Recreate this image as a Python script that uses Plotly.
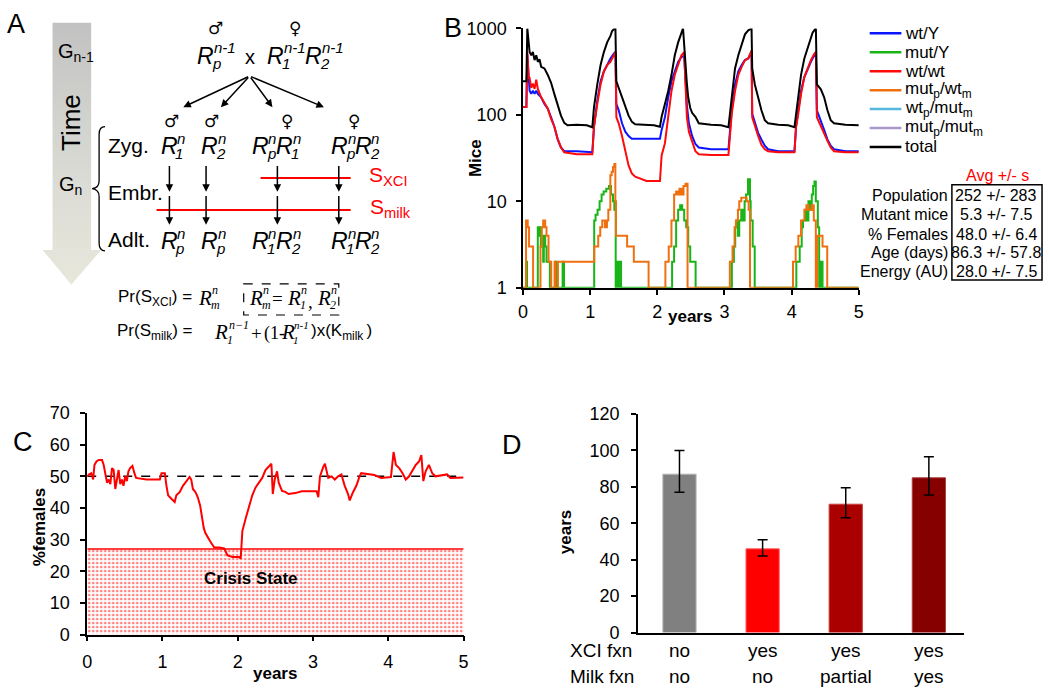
import plotly.graph_objects as go

W, H = 1050, 696
SANS = "Liberation Sans, Arial, Helvetica, sans-serif"
SERIF = "Liberation Serif, Times New Roman, serif"
SYMF = "DejaVu Sans, sans-serif"

# ---------------- Panel B data (mice counts, log scale) ----------------
years_total = [0, 0.05, 0.064, 0.084, 0.098, 0.123, 0.147, 0.172, 0.197, 0.221, 0.246, 0.27, 0.319, 0.369, 0.418, 0.467, 0.516, 0.565, 0.614, 0.663, 0.8, 0.95, 1.032,
               1.057, 1.106, 1.155, 1.204, 1.253, 1.302, 1.327, 1.351, 1.376, 1.39, 1.425, 1.474, 1.523, 1.572, 1.622, 1.671, 1.8, 1.95, 2.039,
               2.064, 2.113, 2.162, 2.211, 2.26, 2.31, 2.359, 2.383, 2.44, 2.46, 2.49, 2.52, 2.567, 2.617, 2.8, 2.95, 3.059,
               3.084, 3.108, 3.157, 3.206, 3.256, 3.305, 3.354, 3.403, 3.413, 3.452, 3.501, 3.55, 3.6, 3.649, 3.8, 3.95, 4.042,
               4.066, 4.091, 4.14, 4.189, 4.238, 4.287, 4.312, 4.337, 4.361, 4.376, 4.435, 4.484, 4.533, 4.582, 4.631, 4.8, 5.0]
mice_total = [245, 245, 1000, 700, 533, 490, 533, 430, 490, 411, 440, 360, 345, 290, 235, 174, 128, 98, 81, 76, 77, 76, 72,
              123, 225, 377, 533, 690, 820, 935, 975, 1000, 245, 206, 160, 123, 98, 83, 78, 77, 76, 73,
              95, 134, 189, 291, 490, 690, 894, 1000, 230, 160, 120, 105, 95, 80, 77, 76, 72,
              113, 174, 345, 490, 660, 855, 950, 1000, 345, 225, 160, 113, 87, 80, 77, 76, 72,
              103, 146, 291, 450, 580, 785, 894, 950, 1000, 225, 198, 160, 113, 87, 80, 77, 76]

years_wtY = [0, 0.05, 0.064, 0.084, 0.098, 0.123, 0.147, 0.172, 0.197, 0.221, 0.27, 0.319, 0.369, 0.418, 0.467, 0.516, 0.565, 0.614, 0.8, 1.032,
             1.057, 1.106, 1.155, 1.204, 1.253, 1.302, 1.351, 1.376, 1.39, 1.425, 1.474, 1.523, 1.572, 1.62, 1.8, 2.039,
             2.064, 2.113, 2.162, 2.211, 2.26, 2.31, 2.359, 2.40, 2.44, 2.47, 2.518, 2.567, 2.617, 2.8, 3.059,
             3.084, 3.108, 3.157, 3.206, 3.256, 3.305, 3.354, 3.403, 3.413, 3.452, 3.501, 3.55, 3.6, 3.649, 3.8, 4.042,
             4.066, 4.091, 4.14, 4.189, 4.238, 4.287, 4.337, 4.361, 4.376, 4.41, 4.484, 4.533, 4.582, 4.631, 4.8, 5.0]
mice_wtY = [123, 123, 500, 250, 190, 175, 190, 175, 190, 175, 160, 134, 118, 94, 73, 52, 42, 38, 38, 37,
            73, 146, 245, 318, 377, 450, 510, 533, 134, 113, 80, 64, 57, 53, 53, 53,
            67, 94, 160, 245, 318, 411, 468, 480, 130, 80, 57, 46, 42, 40, 40,
            73, 113, 225, 318, 377, 430, 450, 533, 103, 80, 62, 52, 44, 40, 38, 38,
            73, 103, 189, 274, 345, 411, 490, 533, 113, 94, 67, 52, 44, 40, 38, 38]

years_wtwt = [0, 0.05, 0.064, 0.084, 0.098, 0.123, 0.147, 0.172, 0.197, 0.221, 0.27, 0.319, 0.369, 0.418, 0.467, 0.516, 0.565, 0.614, 0.8, 1.032,
              1.057, 1.106, 1.155, 1.204, 1.253, 1.302, 1.351, 1.376, 1.39, 1.425, 1.474, 1.523, 1.572, 1.62, 1.671, 1.84, 2.039,
              2.064, 2.113, 2.162, 2.211, 2.26, 2.31, 2.359, 2.40, 2.44, 2.47, 2.518, 2.567, 2.617, 2.8, 3.059,
              3.084, 3.108, 3.157, 3.206, 3.256, 3.305, 3.354, 3.403, 3.413, 3.452, 3.501, 3.55, 3.6, 3.649, 3.8, 4.042,
              4.066, 4.091, 4.14, 4.189, 4.238, 4.287, 4.337, 4.361, 4.376, 4.435, 4.484, 4.533, 4.582, 4.631, 4.8, 5.0]
mice_wtwt = [123, 123, 533, 267, 267, 206, 230, 200, 255, 200, 160, 140, 118, 90, 73, 53, 42, 37, 35, 35,
             73, 134, 225, 318, 377, 411, 490, 533, 94, 80, 57, 37, 26, 21, 19.3, 17.2, 17.2,
             34, 47, 95, 189, 291, 377, 490, 533, 94, 64, 48, 38, 35, 34.4, 34.4,
             67, 103, 189, 291, 360, 430, 450, 556, 94, 73, 57, 45, 40, 38, 37, 37,
             73, 94, 174, 274, 345, 430, 510, 533, 94, 73, 62, 50, 42, 38, 37, 37]

years_mutY = [0, 0.045, 0.06, 0.22, 0.235, 0.25, 0.265, 0.28, 0.30, 0.31, 0.33, 0.35, 0.40, 0.48, 0.50, 0.59, 0.61,
              1.06, 1.08, 1.11, 1.14, 1.17, 1.20, 1.24, 1.28, 1.31, 1.34, 1.36, 1.38, 1.40, 1.41, 1.42, 1.43, 1.45, 1.46,
              2.22, 2.25, 2.28, 2.31, 2.34, 2.37, 2.40, 2.43, 2.46, 2.49, 2.57,
              3.11, 3.14, 3.16, 3.18, 3.20, 3.22, 3.25, 3.27, 3.30, 3.32, 3.35, 3.38, 3.39, 3.42, 3.45,
              4.07, 4.12, 4.15, 4.17, 4.20, 4.22, 4.25, 4.27, 4.30, 4.32, 4.34, 4.36, 4.39, 4.41, 4.44, 4.46, 5.0]
mice_mutY = [1, 2, 1, 5, 4, 5, 3, 4, 2, 4, 3, 2, 1, 2, 1, 2, 1,
             6, 7, 8, 10, 12, 13, 14, 15, 12, 10, 8, 1, 2, 1, 2, 1, 2, 1,
             2, 3, 6, 8, 9, 8, 6, 5, 3, 2, 1,
             2, 3, 5, 6, 4, 6, 8, 6, 10, 12, 18, 10, 6, 3, 1,
             2, 3, 5, 6, 8, 6, 10, 8, 12, 15, 17, 10, 5, 1, 2, 1, 1]

years_mutp_wtm = [0, 0.045, 0.07, 0.09, 0.13, 0.15, 0.26, 0.28, 0.30, 0.33, 0.35, 0.38, 0.42, 0.47, 0.48, 0.52,
                  1.06, 1.12, 1.15, 1.18, 1.22, 1.25, 1.27, 1.30, 1.32, 1.34, 1.36, 1.375, 1.385, 1.55, 1.65, 1.87,
                  2.12, 2.17, 2.21, 2.25, 2.28, 2.31, 2.33, 2.36, 2.39, 2.42, 2.45,
                  3.08, 3.12, 3.15, 3.17, 3.20, 3.22, 3.25, 3.30, 3.33, 3.36, 3.38,
                  4.02, 4.06, 4.10, 4.14, 4.19, 4.22, 4.25, 4.30, 4.33, 4.36, 4.38, 4.43, 4.46, 4.53, 5.0]
mice_mutp_wtm = [1, 6, 5, 3, 3, 1, 3, 5, 6, 5, 4, 2, 1, 2, 1, 2,
                 3, 4, 5, 6, 5, 6, 8, 20, 22, 25, 27, 10, 4, 3, 2, 1,
                 2, 3, 6, 12, 13, 12, 14, 12, 15, 16, 1,
                 2, 3, 5, 6, 8, 10, 11, 11, 10, 8, 1,
                 2, 3, 4, 6, 8, 9, 8, 9, 6, 1, 4, 4, 3, 1, 1]

legend_names = ["wt/Y", "mut/Y", "wt/wt", "mut<sub>p</sub>/wt<sub>m</sub>",
                "wt<sub>p</sub>/mut<sub>m</sub>", "mut<sub>p</sub>/mut<sub>m</sub>", "total"]
legend_colors = ["#0a14ff", "#18b418", "#ff0a0a", "#f07010", "#55b8dc", "#a898cc", "#000000"]
b_ticks = [1, 10, 100, 1000]
year_ticks = [0, 1, 2, 3, 4, 5]

stat_names = ["Population", "Mutant mice", "% Females", "Age (days)", "Energy (AU)"]
stat_values = ["252 +/- 283", "5.3 +/- 7.5", "48.0 +/- 6.4", "86.3 +/- 57.8", "28.0 +/- 7.5"]

# ---------------- Panel C data (% females) ----------------
fem_years = [0, 0.022, 0.053, 0.079, 0.096, 0.123, 0.154, 0.197, 0.219, 0.241, 0.263, 0.285, 0.307, 0.329, 0.351,
             0.373, 0.395, 0.417, 0.439, 0.461, 0.482, 0.504, 0.526, 0.548, 0.570, 0.601, 0.627, 0.649, 0.789,
             0.965, 0.987, 1.031, 1.053, 1.075, 1.118, 1.162, 1.184, 1.228, 1.272, 1.316, 1.360, 1.382, 1.404,
             1.439, 1.469, 1.5, 1.526, 1.548, 1.570, 1.601, 1.645, 1.689, 1.754, 1.820, 1.864, 1.930, 2.018,
             2.039, 2.061, 2.105, 2.149, 2.193, 2.237, 2.281, 2.325, 2.368, 2.412, 2.447, 2.465, 2.491, 2.522,
             2.544, 2.588, 2.632, 2.675, 2.763, 2.851, 3.048, 3.070, 3.092, 3.136, 3.158, 3.202, 3.246, 3.289,
             3.333, 3.377, 3.421, 3.465, 3.487, 3.531, 3.575, 3.618, 3.640, 3.816, 3.904, 4.035, 4.070, 4.101,
             4.145, 4.189, 4.232, 4.276, 4.320, 4.364, 4.408, 4.439, 4.465, 4.496, 4.539, 4.583, 4.627, 4.781,
             4.825, 5.0]
pct_females = [50, 50.6, 51, 49, 53.6, 54.7, 55.2, 55.2, 53.6, 50, 48, 49, 47.5, 52.6, 52,
               46, 49.5, 52, 47.5, 49, 47, 50, 48.5, 51.6, 52.6, 53.3, 51, 49.5, 49,
               49, 51, 51, 47, 44, 42.9, 41.9, 44, 45, 47, 48.5, 49.8, 49, 46,
               45, 43.4, 40.8, 36.7, 33.7, 32.1, 30.6, 29, 27.5, 27.5, 27.2, 25, 24.5, 24.5,
               24, 32.7, 36.7, 40.8, 44, 46.5, 48, 49.5, 52, 53, 54, 44.4, 49, 51.6,
               48, 45.4, 45.1, 44.4, 44.7, 45.3, 45.3, 43.4, 50, 53, 54, 49.5, 50, 49,
               50, 50.6, 47, 44.4, 42.4, 45, 47, 50, 51, 50.4, 49.5, 49.8, 57.7, 53.6,
               52.6, 51, 49, 50, 51.6, 53.6, 54.7, 56.7, 48.5, 51.6, 53.6, 51, 50, 50.6,
               49.5, 49.6]
crisis_level = 27
parity_level = 50
pct_ticks = [0, 10, 20, 30, 40, 50, 60, 70]

# ---------------- Panel D data ----------------
d_positions = [0, 1, 2, 3]
xci_fxn = ["no", "yes", "yes", "yes"]
milk_fxn = ["no", "no", "partial", "yes"]
persist_years = [87, 46, 70.5, 85]
err_plus = [13, 5, 9, 11.5]
err_minus = [10, 4, 7.5, 9.5]
bar_colors = ["#808080", "#ff0000", "#aa0000", "#870000"]
bar_edges = ["#b8b8b8", "#ff6060", "#c84040", "#a84040"]
d_ticks = [0, 20, 40, 60, 80, 100, 120]

for a, b in [(years_total, mice_total), (years_wtY, mice_wtY), (years_wtwt, mice_wtwt),
             (years_mutY, mice_mutY), (years_mutp_wtm, mice_mutp_wtm), (fem_years, pct_females)]:
    assert len(a) == len(b), (len(a), len(b))


def xd(a, b):
    return [a / W, b / W]


def yd(top, bottom):
    return [1 - bottom / H, 1 - top / H]


fig = go.Figure()

# ---------- Panel B traces ----------
b_series = [(years_wtY, mice_wtY, legend_colors[0], "linear"), (years_wtwt, mice_wtwt, legend_colors[2], "linear"),
            (years_mutY, mice_mutY, legend_colors[1], "hv"), (years_mutp_wtm, mice_mutp_wtm, legend_colors[3], "hv"),
            (years_total, mice_total, legend_colors[6], "linear")]
for xs, ys, col, shp in b_series:
    fig.add_trace(go.Scatter(x=xs, y=ys, mode="lines", line=dict(color=col, width=2, shape=shp),
                             xaxis="x", yaxis="y", hoverinfo="skip"))

# ---------- Panel C traces ----------
fig.add_trace(go.Scatter(x=[year_ticks[0], year_ticks[-1]], y=[crisis_level, crisis_level], mode="lines",
                         fill="tozeroy", fillcolor="rgba(0,0,0,0)",
                         fillpattern=dict(shape=".", fgcolor="#ff0000", bgcolor="white", size=4, solidity=0.35),
                         line=dict(color="#ff0000", width=1.5), xaxis="x2", yaxis="y2", hoverinfo="skip"))
fig.add_trace(go.Scatter(x=[year_ticks[0], year_ticks[-1]], y=[parity_level, parity_level], mode="lines",
                         line=dict(color="black", width=1.5, dash="dash"), xaxis="x2", yaxis="y2", hoverinfo="skip"))
fig.add_trace(go.Scatter(x=fem_years, y=pct_females, mode="lines", line=dict(color="#ff0000", width=2),
                         xaxis="x2", yaxis="y2", hoverinfo="skip"))

# ---------- Panel D traces ----------
fig.add_trace(go.Bar(x=d_positions, y=persist_years, width=0.4,
                     marker=dict(color=bar_colors, line=dict(color=bar_edges, width=1)),
                     error_y=dict(type="data", symmetric=False, array=err_plus, arrayminus=err_minus,
                                  color="black", thickness=1.5, width=5),
                     xaxis="x3", yaxis="y3", hoverinfo="skip"))

# ---------- Panel A: gradient arrow on a pixel overlay axis ----------
fig.add_trace(go.Scatter(x=[48, 87, 87, 97, 67, 38, 48, 48], y=[13, 13, 247, 247, 283, 247, 247, 13],
                         mode="lines", fill="toself", line=dict(width=0, color="rgba(0,0,0,0)"),
                         fillgradient=dict(type="vertical", start=13, stop=283,
                                           colorscale=[[0, "#c2c2c2"], [0.6, "#dcdcd6"], [1, "#e8e8dc"]]),
                         xaxis="x4", yaxis="y4", hoverinfo="skip"))

axis_common = dict(showline=True, linecolor="black", linewidth=1.5, ticks="outside", ticklen=5, tickwidth=1.5,
                   tickcolor="black", showgrid=False, zeroline=False,
                   tickfont=dict(family=SANS, size=18, color="black"))

fig.update_layout(
    width=W, height=H, margin=dict(l=0, r=0, t=0, b=0),
    paper_bgcolor="white", plot_bgcolor="rgba(0,0,0,0)", showlegend=False,
    font=dict(family=SANS, color="black"),
    xaxis=dict(domain=xd(523, 862), range=[0, 5], tickvals=year_ticks, anchor="y", layer="below traces",
               ticklabelstandoff=2, **axis_common),
    yaxis=dict(domain=yd(19, 286), type="log", range=[0, 3], tickvals=b_ticks,
               ticktext=[str(v) for v in b_ticks], anchor="x", layer="below traces",
               ticklabelstandoff=6, **axis_common),
    xaxis2=dict(domain=xd(83, 463), range=[0, 5], tickvals=year_ticks, anchor="y2",
                ticklabelstandoff=5, **axis_common),
    yaxis2=dict(domain=yd(415, 643), range=[0, 70], tickvals=pct_ticks, anchor="x2",
                ticklabelstandoff=7, **axis_common),
    xaxis3=dict(domain=xd(639, 968), range=[-0.5, 3.42], anchor="y3", showline=True, linecolor="black",
                linewidth=1.5, ticks="", showticklabels=False, showgrid=False, zeroline=False),
    yaxis3=dict(domain=yd(416, 641), range=[0, 120], tickvals=d_ticks, anchor="x3",
                ticklabelstandoff=8, **axis_common),
    xaxis4=dict(domain=[0, 1], range=[0, W], visible=False, anchor="y4", fixedrange=True),
    yaxis4=dict(domain=[0, 1], range=[H, 0], visible=False, anchor="x4", fixedrange=True),
)

annotations = []
shapes = []


def A(x, y, text, size=16, color="black", xanchor="center", yanchor="middle", family=SANS, angle=0,
      xref="x4", yref="y4"):
    annotations.append(dict(x=x, y=y, xref=xref, yref=yref, text=text, showarrow=False,
                            font=dict(family=family, size=size, color=color), xanchor=xanchor,
                            yanchor=yanchor, textangle=angle, borderpad=0))


def Rsym(x, y, sub, sup, size=23, small=15, serif=False, sup_dx=17, sub_dx=15, sup_dy=-8, sub_dy=8):
    fam = SERIF if serif else SANS
    A(x, y, "<i>R</i>", size, xanchor="left", family=fam)
    A(x + sup_dx, y + sup_dy, "<i>%s</i>" % sup, small, xanchor="left", family=fam)
    A(x + sub_dx, y + sub_dy, "<i>%s</i>" % sub, small, xanchor="left", family=fam)


def arrow(x0, y0, x1, y1):
    annotations.append(dict(x=x1, y=y1, ax=x0, ay=y0, xref="x4", yref="y4", axref="x4", ayref="y4",
                            showarrow=True, arrowhead=2, arrowsize=1, arrowwidth=1.5, arrowcolor="black",
                            text="", standoff=0, startstandoff=0, font=dict(size=10)))


def line(x0, y0, x1, y1, color="black", width=1.5, dash="solid"):
    shapes.append(dict(type="line", x0=x0, y0=y0, x1=x1, y1=y1, xref="x4", yref="y4",
                       line=dict(color=color, width=width, dash=dash)))


# Panel letters
A(11, 14, "A", 27)
A(452, 19, "B", 27)
A(18, 445, "C", 27)
A(512, 448, "D", 27)

# ---- Panel A diagram ----
A(52, 44, "G<sub>n-1</sub>", 20, xanchor="left")
A(66, 116, "Time", 26, angle=-90)
A(53, 181, "G<sub>n</sub>", 20, xanchor="left")

A(213, 19, "♂", 17, family=SYMF)
A(293, 19, "♀", 17, family=SYMF)
Rsym(193, 47, "p", "n-1")
A(247, 48, "x", 20)
Rsym(264, 47, "1", "n-1")
Rsym(302, 47, "2", "n-1")

for hx in [180, 218, 270, 322]:
    arrow(247, 68, hx, 100)

for sx, sym in [(168, "♂"), (208, "♂"), (285, "♀"), (352, "♀")]:
    A(sx, 114, sym, 17, family=SYMF)

A(103, 140, "Zyg.", 21, xanchor="left")
A(103, 188, "Embr.", 21, xanchor="left")
A(103, 236, "Adlt.", 21, xanchor="left")

for rx, sub in [(156, "1"), (197, "2"), (248, "p"), (273, "1"), (328, "p"), (352, "2")]:
    Rsym(rx, 140, sub, "n")
for rx, sub in [(156, "p"), (197, "p"), (248, "1"), (273, "2"), (328, "1"), (352, "2")]:
    Rsym(rx, 238, sub, "n")

for vx in [166, 203, 275, 337]:
    arrow(vx, 159, vx, 187)
    arrow(vx, 190, vx, 221)

line(258, 173, 349, 173, color="#ff0000", width=2)
line(153, 206, 349, 206, color="#ff0000", width=2)
A(366, 171, "S<sub>XCI</sub>", 21, color="#ff0000", xanchor="left")
A(367, 204, "S<sub>milk</sub>", 21, color="#ff0000", xanchor="left")

shapes.append(dict(type="path", xref="x4", yref="y4",
                   path="M 101 120 Q 95 120 95 128 L 95 176 Q 95 183 88 184 Q 95 185 95 192 L 95 240 Q 95 248 101 248",
                   line=dict(color="black", width=1.3)))

# formulas
A(113, 297, "Pr(S<sub>XCI</sub>) =", 17, xanchor="left")
Rsym(194, 297, "m", "n", size=21, small=12, serif=True, sup_dx=14, sub_dx=13, sup_dy=-9, sub_dy=7)
shapes.append(dict(type="rect", xref="x4", yref="y4", x0=241, y0=282, x1=337, y1=314,
                   line=dict(color="black", width=1.2, dash="dash")))
Rsym(245, 297, "m", "n", size=21, small=12, serif=True, sup_dx=14, sub_dx=13, sup_dy=-9, sub_dy=7)
A(275, 297, "=", 19, family=SERIF)
Rsym(284, 297, "1", "n", size=21, small=12, serif=True, sup_dx=14, sub_dx=13, sup_dy=-9, sub_dy=7)
A(308, 300, ",", 19, family=SERIF)
Rsym(314, 297, "2", "n", size=21, small=12, serif=True, sup_dx=14, sub_dx=13, sup_dy=-9, sub_dy=7)

A(112, 332, "Pr(S<sub>milk</sub>) =", 17, xanchor="left")
Rsym(210, 332, "1", "n\u22121", size=21, small=12, serif=True, sup_dx=15, sub_dx=13, sup_dy=-8, sub_dy=8)
A(254, 333, "+", 19, family=SERIF)
A(260, 333, "(1-", 18, xanchor="left", family=SERIF)
Rsym(278, 332, "1", "n-1", size=21, small=11, serif=True, sup_dx=13, sub_dx=12, sup_dy=-8, sub_dy=8)
A(308, 332, ")x(K<sub>milk </sub>)", 17, xanchor="left")

# ---- Panel B extras ----
A(475, 152, "<b>Mice</b>", 17, angle=-90)
A(692, 316, "<b>years</b>", 17)
leg_rows = [24, 43.5, 63, 82.5, 102, 121.5, 141]
for name, col, yy in zip(legend_names, legend_colors, leg_rows):
    line(873, yy, 905, yy, color=col, width=2.5)
    A(908, yy, name, 17, xanchor="left")

A(1002, 170, "Avg +/- s", 16, color="#ff0000")
stat_rows = [191, 211, 231, 250, 269]
for nm, val, yy in zip(stat_names, stat_values, stat_rows):
    A(953, yy, nm, 16, xanchor="right")
    A(1001, yy, val, 16)
shapes.append(dict(type="rect", xref="x4", yref="y4", x0=956, y0=180, x1=1047, y1=278,
                   line=dict(color="black", width=1.5)))

# ---- Panel C extras ----
A(35, 533, "<b>%females</b>", 17, angle=-90)
A(273, 683, "<b>years</b>", 17)
A(248, 585, "<b>Crisis State</b>", 17)

# ---- Panel D extras ----
A(566, 538, "<b>years</b>", 17, angle=-90)
A(569, 659, "XCI fxn", 19, xanchor="left")
A(569, 686, "Milk fxn", 19, xanchor="left")
for p, a1, a2 in zip(d_positions, xci_fxn, milk_fxn):
    A(p, 659, a1, 19, xref="x3")
    A(p, 686, a2, 19, xref="x3")

fig.update_layout(annotations=annotations, shapes=shapes)

fig.write_html("out.html", config={"displayModeBar": False},
               post_script="document.body.style.margin='0';document.body.style.overflow='hidden';")
